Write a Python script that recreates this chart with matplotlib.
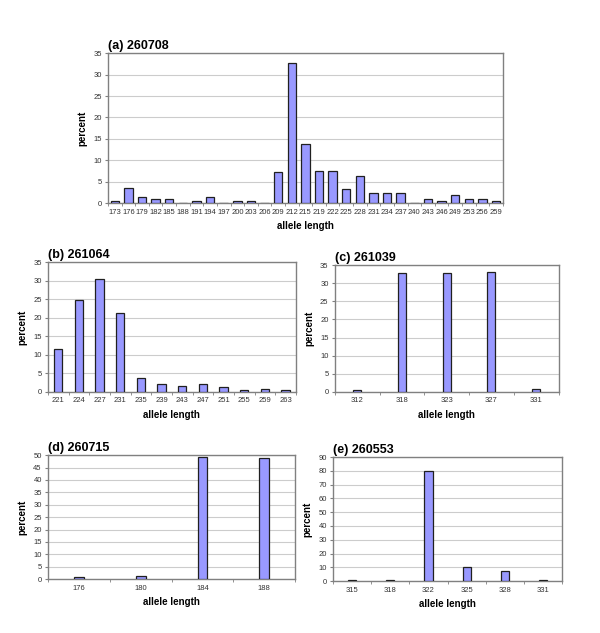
import matplotlib
matplotlib.use('Agg')
import matplotlib.pyplot as plt
import numpy as np

plt.rcParams['font.family'] = ['Liberation Sans', 'DejaVu Sans']

# (a) 260708
a_cats = ['173', '176', '179', '182', '185', '188', '191', '194', '197', '200',
          '203', '206', '209', '212', '215', '219', '222', '225', '228', '231',
          '234', '237', '240', '243', '246', '249', '253', '256', '259']
a_vals = [0.5, 3.6, 1.4, 0.9, 0.9, 0, 0.5, 1.4, 0, 0.5,
          0.5, 0, 7.2, 32.6, 13.9, 7.6, 7.6, 3.2, 6.3, 2.3,
          2.3, 2.3, 0, 0.9, 0.5, 1.8, 0.9, 0.9, 0.5]

# (b) 261064
b_cats = ['221', '224', '227', '231', '235', '239', '243', '247', '251', '255', '259', '263']
b_vals = [11.5, 24.9, 30.4, 21.3, 3.6, 2.0, 1.6, 2.0, 1.2, 0.4, 0.8, 0.4]

# (c) 261039
c_cats = ['312', '318', '323', '327', '331']
c_vals = [0.4, 32.8, 32.8, 33.2, 0.8]

# (d) 260715
d_cats = ['176', '180', '184', '188']
d_vals = [0.7, 1.3, 49.3, 48.8]

# (e) 260553
e_cats = ['315', '318', '322', '325', '328', '331']
e_vals = [1, 1, 80, 10, 7.5, 1]

panels = [
    ('(a) 260708', a_cats, a_vals, [0.18, 0.679, 0.658, 0.237], 35, 5, 0.62),
    ('(b) 261064', b_cats, b_vals, [0.08, 0.381, 0.413, 0.205], 35, 5, 0.4),
    ('(c) 261039', c_cats, c_vals, [0.558, 0.381, 0.373, 0.200], 35, 5, 0.18),
    ('(d) 260715', d_cats, d_vals, [0.08, 0.085, 0.412, 0.196], 50, 5, 0.16),
    ('(e) 260553', e_cats, e_vals, [0.555, 0.082, 0.382, 0.196], 90, 10, 0.21),
]

fig = plt.figure(figsize=(6, 6.33), dpi=100)
for title, cats, vals, rect, ymax, step, bw in panels:
    ax = fig.add_axes(rect)
    x = np.arange(len(cats))
    ax.bar(x, vals, width=bw, color='#9999ff', edgecolor='#202020', linewidth=0.9, zorder=3)
    ax.set_xlim(-0.5, len(cats) - 0.5)
    ax.set_ylim(0, ymax)
    ax.set_yticks(np.arange(0, ymax + 1, step))
    ax.yaxis.grid(True, color='#cccccc', linewidth=0.8, zorder=0)
    ax.set_xticks(x)
    ax.set_xticklabels(cats)
    ax.set_xticks(np.arange(-0.5, len(cats)), minor=True)
    ax.tick_params(axis='x', which='major', length=0, labelsize=5.5, pad=4, labelcolor='#333333')
    ax.tick_params(axis='x', which='minor', length=2.5, color='#808080', direction='out')
    ax.tick_params(axis='y', labelsize=5.5, length=2.5, color='#808080', pad=2, labelcolor='#333333')
    for s in ax.spines.values():
        s.set_color('#808080')
        s.set_linewidth(1.0)
    ax.set_xlabel('allele length', fontsize=7, fontweight='bold', labelpad=4)
    ax.set_ylabel('percent', fontsize=7, fontweight='bold', labelpad=4)
    ax.set_title(title, fontsize=9, fontweight='bold', loc='left', pad=3)

fig.savefig('out.png', dpi=100)
